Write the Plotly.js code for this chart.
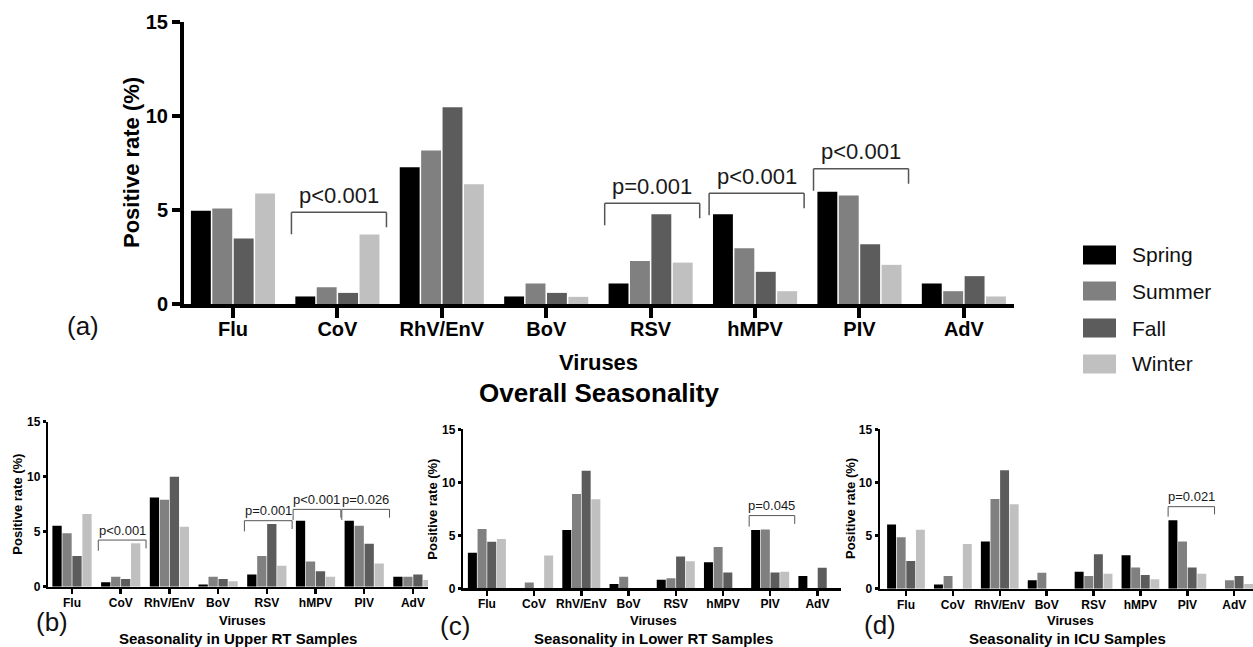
<!DOCTYPE html>
<html>
<head>
<meta charset="utf-8">
<script src="https://cdn.plot.ly/plotly-3.0.1.min.js"></script>
<style>
  html, body { margin: 0; padding: 0; background: #ffffff; }
  #chart { width: 1253px; height: 647px; }
</style>
</head>
<body>
<div id="chart"></div>
<script>
// ---------------- DATA ----------------
const categories = ['Flu', 'CoV', 'RhV/EnV', 'BoV', 'RSV', 'hMPV', 'PIV', 'AdV'];
const seasons = ['Spring', 'Summer', 'Fall', 'Winter'];

// (a) Overall seasonality, positive rate (%)
const overallSpring = [4.96, 0.4, 7.27, 0.4, 1.09, 4.77, 5.97, 1.09];
const overallSummer = [5.07, 0.89, 8.15, 1.09, 2.29, 2.96, 5.76, 0.68];
const overallFall   = [3.48, 0.59, 10.45, 0.59, 4.77, 1.71, 3.18, 1.48];
const overallWinter = [5.87, 3.69, 6.36, 0.38, 2.2, 0.68, 2.08, 0.4];

// (b) Upper RT samples
const upperSpring = [5.55, 0.4, 8.1, 0.2, 1.1, 6.0, 6.0, 0.9];
const upperSummer = [4.85, 0.9, 7.9, 0.9, 2.8, 2.3, 5.55, 0.9];
const upperFall   = [2.8, 0.7, 10.0, 0.7, 5.7, 1.4, 3.9, 1.1];
const upperWinter = [6.6, 3.95, 5.45, 0.5, 1.9, 0.9, 2.1, 0.6];

// (c) Lower RT samples
const lowerSpring = [3.35, 0, 5.5, 0.4, 0.8, 2.45, 5.5, 1.15];
const lowerSummer = [5.6, 0.55, 8.9, 1.1, 0.95, 3.9, 5.55, 0];
const lowerFall   = [4.4, 0, 11.1, 0, 3.0, 1.5, 1.5, 1.95];
const lowerWinter = [4.65, 3.1, 8.4, 0, 2.55, 0, 1.55, 0];

// (d) ICU samples
const icuSpring = [6.05, 0.4, 4.45, 0.8, 1.6, 3.15, 6.45, 0];
const icuSummer = [4.85, 1.2, 8.45, 1.5, 1.2, 2.0, 4.45, 0.8];
const icuFall   = [2.6, 0, 11.15, 0, 3.25, 1.3, 2.0, 1.2];
const icuWinter = [5.55, 4.2, 7.95, 0, 1.4, 0.9, 1.4, 0.45];

// Significance brackets
const overallBracketCats   = ['CoV', 'RSV', 'hMPV', 'PIV'];
const overallBracketLabels = ['p<0.001', 'p=0.001', 'p<0.001', 'p<0.001'];
const overallBracketTops   = [4.88, 5.35, 5.88, 7.18];

const upperBracketCats   = ['CoV', 'RSV', 'hMPV', 'PIV'];
const upperBracketLabels = ['p<0.001', 'p=0.001', 'p<0.001', 'p=0.026'];
const upperBracketTops   = [4.24, 6.0, 7.03, 7.03];

const lowerBracketCats   = ['PIV'];
const lowerBracketLabels = ['p=0.045'];
const lowerBracketTops   = [6.86];

const icuBracketCats   = ['PIV'];
const icuBracketLabels = ['p=0.021'];
const icuBracketTops   = [7.72];

const yTickVals = [0, 5, 10, 15];

// ---------------- STYLE / LAYOUT ----------------
const W = 1253, H = 647;
const FONT = 'Liberation Sans, Arial, Helvetica, sans-serif';
const seasonColors = ['#000000', '#808080', '#5c5c5c', '#c0c0c0'];
const px = p => p / W;
const py = p => 1 - p / H;

const panels = [
  { id: '', series: [overallSpring, overallSummer, overallFall, overallWinter],
    brackets: [overallBracketCats, overallBracketLabels, overallBracketTops],
    left: 184, right: 1014, top: 21.7, bottom: 304, xrange: [-0.469, 7.48],
    tickFont: 20, lineW: 4, yTickLen: 8, xTickLen: 10, xStandoff: -6,
    brOff: [-0.44, 0.47], legPx: [22, 15], pFont: 22, pShift: 17, brW: 1.5,
    yTitle: { x: 131, y: 163, size: 22 }, xTitle: { x: 598, y: 362, size: 22 },
    sub: { text: 'Overall Seasonality', x: 599, y: 393, size: 26 },
    letter: { text: '(a)', x: 83, y: 326 } },
  { id: '2', series: [upperSpring, upperSummer, upperFall, upperWinter],
    brackets: [upperBracketCats, upperBracketLabels, upperBracketTops],
    left: 48.3, right: 428, top: 421.7, bottom: 586.7, xrange: [-0.487, 7.31],
    tickFont: 12, lineW: 2.5, yTickLen: 3, xTickLen: 5, xStandoff: -2,
    brOff: [-0.46, 0.52], legPx: [10.7, 8.3], pFont: 13, pShift: 10, brW: 1,
    yTitle: { x: 16.7, y: 504, size: 13 }, xTitle: { x: 242, y: 620, size: 13 },
    sub: { text: 'Seasonality in Upper RT Samples', x: 238, y: 638, size: 15 },
    letter: { text: '(b)', x: 52, y: 622 } },
  { id: '3', series: [lowerSpring, lowerSummer, lowerFall, lowerWinter],
    brackets: [lowerBracketCats, lowerBracketLabels, lowerBracketTops],
    left: 463.3, right: 841, top: 429.3, bottom: 588.3, xrange: [-0.5, 7.5],
    tickFont: 12, lineW: 2.5, yTickLen: 3, xTickLen: 5, xStandoff: -2,
    brOff: [-0.445, 0.52], legPx: [11, 8.3], pFont: 13, pShift: 10, brW: 1,
    yTitle: { x: 431.7, y: 509, size: 13 }, xTitle: { x: 653, y: 620.7, size: 13 },
    sub: { text: 'Seasonality in Lower RT Samples', x: 653, y: 638, size: 15 },
    letter: { text: '(c)', x: 455, y: 626 } },
  { id: '4', series: [icuSpring, icuSummer, icuFall, icuWinter],
    brackets: [icuBracketCats, icuBracketLabels, icuBracketTops],
    left: 880, right: 1253, top: 429.3, bottom: 588.7, xrange: [-0.554, 7.40],
    tickFont: 12, lineW: 2.5, yTickLen: 3, xTickLen: 5, xStandoff: -2,
    brOff: [-0.41, 0.58], legPx: [10, 7.7], pFont: 13, pShift: 10, brW: 1,
    yTitle: { x: 850, y: 509, size: 13 }, xTitle: { x: 1070, y: 620, size: 13 },
    sub: { text: 'Seasonality in ICU Samples', x: 1067, y: 638, size: 15 },
    letter: { text: '(d)', x: 880, y: 625 } }
];

const traces = [];
const shapes = [];
const annotations = [];
const layout = {
  width: W, height: H, autosize: false,
  margin: { l: 0, r: 0, t: 0, b: 0, pad: 0 },
  paper_bgcolor: '#ffffff', plot_bgcolor: 'rgba(0,0,0,0)',
  barmode: 'group', bargap: 0.18, bargroupgap: 0.07,
  showlegend: false,
  font: { family: FONT, color: '#000000' }
};

panels.forEach(p => {
  const xa = 'x' + p.id, ya = 'y' + p.id;
  p.series.forEach((vals, si) => {
    traces.push({
      type: 'bar', name: seasons[si], x: categories, y: vals,
      xaxis: xa, yaxis: ya,
      marker: { color: seasonColors[si], line: { width: 0 } },
      hoverinfo: 'x+y+name'
    });
  });

  layout['xaxis' + p.id] = {
    domain: [px(p.left), px(p.right)], anchor: ya,
    type: 'category', categoryorder: 'array', categoryarray: categories,
    range: p.xrange, fixedrange: true,
    showgrid: false, zeroline: false,
    showline: true, linecolor: '#000000', linewidth: p.lineW,
    ticks: 'outside', ticklen: p.xTickLen, tickwidth: p.lineW, tickcolor: '#000000',
    ticklabelstandoff: p.xStandoff,
    tickfont: { family: FONT, size: p.tickFont, color: '#000000', weight: 'bold' }
  };
  layout['yaxis' + p.id] = {
    domain: [py(p.bottom), py(p.top)], anchor: xa,
    range: [0, 15], fixedrange: true,
    tickvals: yTickVals, ticktext: yTickVals.map(String),
    showgrid: false, zeroline: false,
    showline: true, linecolor: '#000000', linewidth: p.lineW,
    ticks: 'outside', ticklen: p.yTickLen, tickwidth: p.lineW, tickcolor: '#000000',
    tickfont: { family: FONT, size: p.tickFont, color: '#000000', weight: 'bold' }
  };

  // brackets
  const unitPx = (p.bottom - p.top) / 15;
  const [bc, bl, bt] = p.brackets;
  bc.forEach((cat, i) => {
    const c = categories.indexOf(cat);
    const xl = c + p.brOff[0], xr = c + p.brOff[1];
    const top = bt[i];
    const lineStyle = { color: '#555555', width: p.brW };
    shapes.push({ type: 'line', xref: xa, yref: ya, x0: xl, x1: xl, y0: top - p.legPx[0] / unitPx, y1: top, line: lineStyle });
    shapes.push({ type: 'line', xref: xa, yref: ya, x0: xl, x1: xr, y0: top, y1: top, line: lineStyle });
    shapes.push({ type: 'line', xref: xa, yref: ya, x0: xr, x1: xr, y0: top, y1: top - p.legPx[1] / unitPx, line: lineStyle });
    annotations.push({
      xref: xa, yref: ya, x: (xl + xr) / 2, y: top, yshift: p.pShift,
      xanchor: 'center', yanchor: 'middle', showarrow: false,
      text: bl[i], font: { family: FONT, size: p.pFont, color: '#1a1a1a' }
    });
  });

  // titles & letters
  annotations.push({ xref: 'paper', yref: 'paper', x: px(p.yTitle.x), y: py(p.yTitle.y),
    xanchor: 'center', yanchor: 'middle', textangle: -90, showarrow: false,
    text: 'Positive rate (%)', font: { family: FONT, size: p.yTitle.size, color: '#000', weight: 'bold' } });
  annotations.push({ xref: 'paper', yref: 'paper', x: px(p.xTitle.x), y: py(p.xTitle.y),
    xanchor: 'center', yanchor: 'middle', showarrow: false,
    text: 'Viruses', font: { family: FONT, size: p.xTitle.size, color: '#000', weight: 'bold' } });
  annotations.push({ xref: 'paper', yref: 'paper', x: px(p.sub.x), y: py(p.sub.y),
    xanchor: 'center', yanchor: 'middle', showarrow: false,
    text: p.sub.text, font: { family: FONT, size: p.sub.size, color: '#000', weight: 'bold' } });
  annotations.push({ xref: 'paper', yref: 'paper', x: px(p.letter.x), y: py(p.letter.y),
    xanchor: 'center', yanchor: 'middle', showarrow: false,
    text: p.letter.text, font: { family: FONT, size: 26, color: '#111' } });
});

// custom legend (swatches + labels)
const legendRowsY = [255, 291, 328, 364];
seasons.forEach((s, i) => {
  shapes.push({ type: 'rect', xref: 'paper', yref: 'paper',
    x0: px(1083), x1: px(1116), y0: py(legendRowsY[i] + 9.5), y1: py(legendRowsY[i] - 9.5),
    fillcolor: seasonColors[i], line: { width: 0 } });
  annotations.push({ xref: 'paper', yref: 'paper', x: px(1130), y: py(legendRowsY[i]),
    xanchor: 'left', yanchor: 'middle', showarrow: false,
    text: s, font: { family: FONT, size: 21, color: '#111' } });
});

layout.shapes = shapes;
layout.annotations = annotations;

Plotly.newPlot('chart', traces, layout, { displayModeBar: false, staticPlot: true });
</script>
</body>
</html>
